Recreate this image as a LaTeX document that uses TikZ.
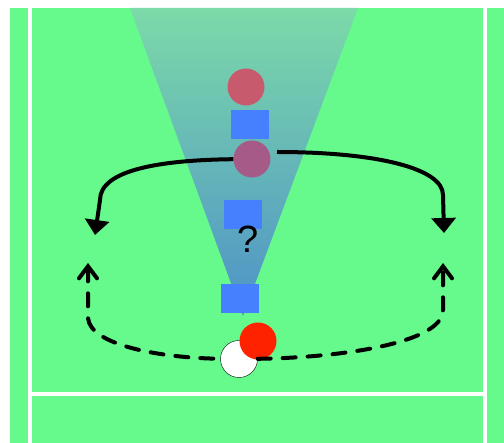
\documentclass[tikz,border=0pt]{standalone}
\usepackage{fontspec}
\setsansfont{Liberation Sans}
\usepackage{tikz}
\usetikzlibrary{arrows.meta,positioning,shapes}

\definecolor{field}{RGB}{102,250,141}
\definecolor{conetop}{RGB}{124,218,168}
\definecolor{conebot}{RGB}{78,146,200}
\definecolor{pinkA}{RGB}{200,90,110}
\definecolor{pinkB}{RGB}{166,90,136}
\definecolor{player}{RGB}{70,128,255}
\definecolor{ballred}{RGB}{255,34,0}

\begin{document}
\begin{tikzpicture}[x=1pt,y=-1pt,
            defender/.style={circle,inner sep=0,minimum size=37pt},
            attacker/.style={rectangle,fill=player,inner sep=0,minimum width=38pt,minimum height=29pt},
            runpath/.style={draw,line width=4pt},
            dashpath/.style={draw,line width=4pt,line cap=round,dash pattern=on 13pt off 12pt},
            runtip/.tip={Triangle[length=15pt,width=24pt]},
            dashtip/.tip={Straight Barb[length=12pt,width=18pt,line cap=round]},
            fieldline/.style={draw=white,line width=4pt}
          ]
          \useasboundingbox (0,0) rectangle (504,443);
          \fill[white] (0,0) rectangle (504,443);
          \fill[field] (10,8) rectangle (504,443);

          %lines
          \draw[fieldline] (30,8) -- (30,443);
          \draw[fieldline] (484.5,8) -- (484.5,443);
          \draw[fieldline] (30,394) -- (484.5,394);

          %cone
          \shade[top color=conetop,bottom color=conebot] (130,8) -- (358,8) -- (243,316) -- cycle;

          %players
          \node[defender,fill=pinkA] (p1) at (246,87) {};
          \node[attacker] (b1) at (250,125) {};
          \node[defender,fill=pinkB] (p2) at (252,159) {};
          \node[attacker] (b2) at (243,215) {};
          \node[attacker] (b3) at (240,299) {};
          \node[font=\sffamily\fontsize{38}{40}\selectfont] (q) at (248,239) {?};

          \node[defender,fill=white,draw=black,thin] (me) at (239,359) {};
          \node[defender,fill=ballred,minimum size=37pt] (ball) at (258,341) {};

          %arrow ends
          \coordinate (l1) at (95,235);
          \coordinate (r1) at (444,233);
          \coordinate (l2) at (88,263);
          \coordinate (r2) at (443,263);

          %runs
          \path[runpath,runtip-] (l1) -- (100,200) .. controls (100,170) and (160,160) .. (p2);
          \path[runpath,-runtip] (277,152) .. controls (375,152) and (443,168) .. (443,195) -- (r1);
          \path[dashpath,dashtip-] (l2) -- (88,318) .. controls (90,345) and (160,358) .. (me);
          \path[dashpath,-dashtip] (me) .. controls (330,358) and (443,345) .. (443,310) -- (r2);

      \end{tikzpicture}
\end{document}
